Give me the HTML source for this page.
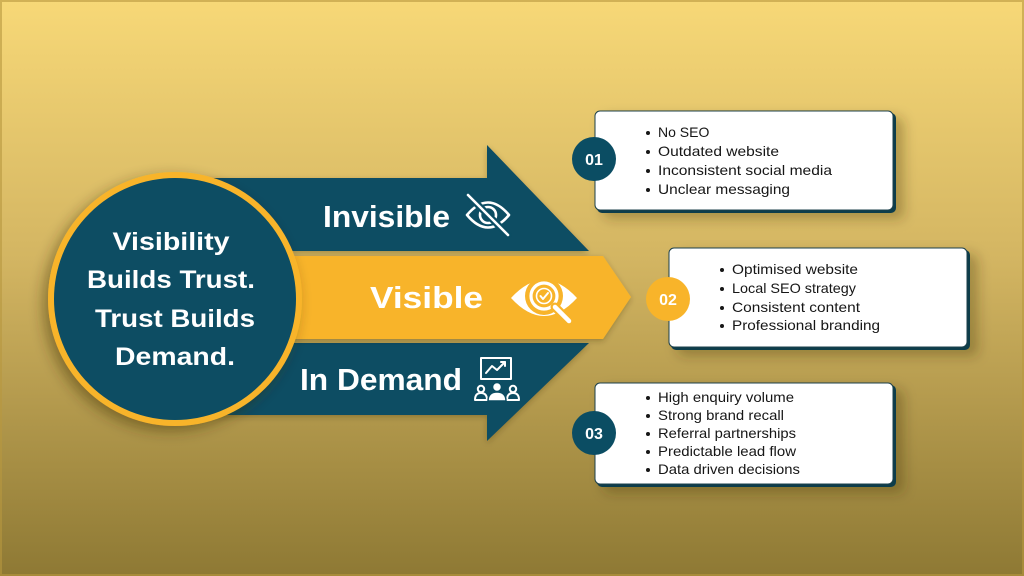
<!DOCTYPE html>
<html><head><meta charset="utf-8">
<style>html,body{margin:0;padding:0;width:1024px;height:576px;overflow:hidden;background:#cfb15c}svg{display:block}</style>
</head>
<body>
<svg width="1024" height="576" viewBox="0 0 1024 576" xmlns="http://www.w3.org/2000/svg" font-family="'Liberation Sans', sans-serif">
<defs>
  <linearGradient id="bg" x1="0" y1="0" x2="0" y2="1">
    <stop offset="0" stop-color="#f7d877"/>
    <stop offset="0.45" stop-color="#d3b562"/>
    <stop offset="1" stop-color="#8e7934"/>
  </linearGradient>
  <filter id="csh" x="-30%" y="-30%" width="160%" height="160%">
    <feDropShadow dx="-5" dy="5" stdDeviation="7" flood-color="#3a2e08" flood-opacity="0.45"/>
  </filter>
  <filter id="ash" x="-10%" y="-30%" width="120%" height="160%">
    <feDropShadow dx="0" dy="2" stdDeviation="3" flood-color="#3a2e08" flood-opacity="0.3"/>
  </filter>
  <filter id="ksh" x="-10%" y="-20%" width="130%" height="160%">
    <feDropShadow dx="8" dy="6" stdDeviation="6" flood-color="#3a2e08" flood-opacity="0.3"/>
  </filter>
</defs>

<!-- background -->
<rect x="0" y="0" width="1024" height="576" fill="url(#bg)"/>
<rect x="1" y="1" width="1022" height="574" fill="none" stroke="#b8983f" stroke-opacity="0.6" stroke-width="2"/>

<!-- arrows -->
<polygon points="200,178 487,178 487,145 589,251 200,251" fill="#0b4d63" filter="url(#ash)"/>
<polygon points="200,343 589,343 487,441 487,415 200,415" fill="#0b4d63" filter="url(#ash)"/>
<polygon points="200,256 603,256 631,297 603,339 200,339" fill="#f8b42a" filter="url(#ash)"/>

<!-- central circle -->
<circle cx="175" cy="299" r="124" fill="#0b4d63" stroke="#f8b42a" stroke-width="6" filter="url(#csh)"/>
<g fill="#ffffff" font-weight="bold" font-size="25" text-anchor="middle">
  <text x="171" y="250" textLength="117" lengthAdjust="spacingAndGlyphs">Visibility</text>
  <text x="171" y="288" textLength="168" lengthAdjust="spacingAndGlyphs">Builds Trust.</text>
  <text x="175" y="327" textLength="160" lengthAdjust="spacingAndGlyphs">Trust Builds</text>
  <text x="175" y="365" textLength="120" lengthAdjust="spacingAndGlyphs">Demand.</text>
</g>

<!-- arrow labels -->
<g fill="#ffffff" font-weight="bold" font-size="31">
  <text x="323" y="227" textLength="127" lengthAdjust="spacingAndGlyphs">Invisible</text>
  <text x="370" y="308" textLength="113" lengthAdjust="spacingAndGlyphs">Visible</text>
  <text x="300" y="390" textLength="162" lengthAdjust="spacingAndGlyphs">In Demand</text>
</g>

<!-- invisible icon: eye with slash -->
<g fill="none" stroke="#ffffff" stroke-width="2.6" stroke-linecap="round" stroke-linejoin="round">
  <path d="M467,215 Q488,190 509,215 Q488,240 467,215 Z"/>
  <circle cx="488" cy="215" r="8"/>
  <line x1="468" y1="195" x2="508" y2="235" stroke="#0b4d63" stroke-width="7"/>
  <line x1="468" y1="195" x2="508" y2="235"/>
</g>

<!-- visible icon: eye with magnifier -->
<g>
  <path d="M511,298 Q544,262 577,298 Q544,334 511,298 Z" fill="#ffffff"/>
  <circle cx="544" cy="296" r="19" fill="#f8b42a"/>
  <circle cx="544" cy="296" r="13" fill="none" stroke="#ffffff" stroke-width="3.2"/>
  <circle cx="544" cy="296" r="7.5" fill="none" stroke="#ffffff" stroke-width="1.6"/>
  <polyline points="540.5,296 543,299 548,293" fill="none" stroke="#ffffff" stroke-width="2" stroke-linecap="round" stroke-linejoin="round"/>
  <line x1="555" y1="307" x2="569" y2="321" stroke="#f8b42a" stroke-width="9" stroke-linecap="round"/>
  <line x1="555" y1="307" x2="569" y2="321" stroke="#ffffff" stroke-width="4.5" stroke-linecap="round"/>
</g>

<!-- in demand icon: board + people -->
<g fill="none" stroke="#ffffff" stroke-width="2" stroke-linejoin="round" stroke-linecap="round">
  <rect x="481" y="358" width="30" height="21"/>
  <polyline points="486,373 492,366 497,370 505,362"/>
  <polyline points="501,362 505,362 505,366"/>
  <circle cx="481" cy="389" r="3.2"/>
  <path d="M475,400 Q475,393 481,393 Q487,393 487,400 Z"/>
  <circle cx="513" cy="389" r="3.2"/>
  <path d="M507,400 Q507,393 513,393 Q519,393 519,400 Z"/>
</g>
<g fill="#ffffff" stroke="#0b4d63" stroke-width="1.5">
  <circle cx="497" cy="387" r="4.5"/>
  <path d="M488,401 Q488,392 497,392 Q506,392 506,401 Z"/>
</g>

<!-- card 1 -->
<g filter="url(#ksh)">
  <rect x="597" y="113" width="299" height="100" rx="5" fill="#0e3d4c"/>
  <rect x="595" y="111" width="298" height="99" rx="5" fill="#ffffff" stroke="#1b3f4b" stroke-width="1"/>
</g>
<circle cx="594" cy="159" r="22" fill="#0b4d63"/>
<text x="594" y="165" fill="#ffffff" font-weight="bold" font-size="16" text-anchor="middle">01</text>
<g fill="#161616" font-size="14">
  <circle cx="648" cy="133" r="2"/><text x="658" y="137">No SEO</text>
  <circle cx="648" cy="152" r="2"/><text x="658" y="156" textLength="121" lengthAdjust="spacingAndGlyphs">Outdated website</text>
  <circle cx="648" cy="171" r="2"/><text x="658" y="175" textLength="174" lengthAdjust="spacingAndGlyphs">Inconsistent social media</text>
  <circle cx="648" cy="190" r="2"/><text x="658" y="194" textLength="132" lengthAdjust="spacingAndGlyphs">Unclear messaging</text>
</g>

<!-- card 2 -->
<g filter="url(#ksh)">
  <rect x="671" y="250" width="299" height="100" rx="5" fill="#0e3d4c"/>
  <rect x="669" y="248" width="298" height="99" rx="5" fill="#ffffff" stroke="#1b3f4b" stroke-width="1"/>
</g>
<circle cx="668" cy="299" r="22" fill="#f8b42a"/>
<text x="668" y="305" fill="#ffffff" font-weight="bold" font-size="16" text-anchor="middle">02</text>
<g fill="#161616" font-size="14">
  <circle cx="722" cy="270" r="2"/><text x="732" y="274" textLength="126" lengthAdjust="spacingAndGlyphs">Optimised website</text>
  <circle cx="722" cy="289" r="2"/><text x="732" y="293" textLength="124" lengthAdjust="spacingAndGlyphs">Local SEO strategy</text>
  <circle cx="722" cy="308" r="2"/><text x="732" y="312" textLength="128" lengthAdjust="spacingAndGlyphs">Consistent content</text>
  <circle cx="722" cy="326" r="2"/><text x="732" y="330" textLength="148" lengthAdjust="spacingAndGlyphs">Professional branding</text>
</g>

<!-- card 3 -->
<g filter="url(#ksh)">
  <rect x="597" y="385" width="299" height="102" rx="5" fill="#0e3d4c"/>
  <rect x="595" y="383" width="298" height="101" rx="5" fill="#ffffff" stroke="#1b3f4b" stroke-width="1"/>
</g>
<circle cx="594" cy="433" r="22" fill="#0b4d63"/>
<text x="594" y="439" fill="#ffffff" font-weight="bold" font-size="16" text-anchor="middle">03</text>
<g fill="#161616" font-size="14">
  <circle cx="648" cy="398" r="2"/><text x="658" y="402" textLength="136" lengthAdjust="spacingAndGlyphs">High enquiry volume</text>
  <circle cx="648" cy="416" r="2"/><text x="658" y="420" textLength="126" lengthAdjust="spacingAndGlyphs">Strong brand recall</text>
  <circle cx="648" cy="434" r="2"/><text x="658" y="438" textLength="138" lengthAdjust="spacingAndGlyphs">Referral partnerships</text>
  <circle cx="648" cy="452" r="2"/><text x="658" y="456" textLength="138" lengthAdjust="spacingAndGlyphs">Predictable lead flow</text>
  <circle cx="648" cy="470" r="2"/><text x="658" y="474" textLength="142" lengthAdjust="spacingAndGlyphs">Data driven decisions</text>
</g>
</svg>
</body>
</html>
